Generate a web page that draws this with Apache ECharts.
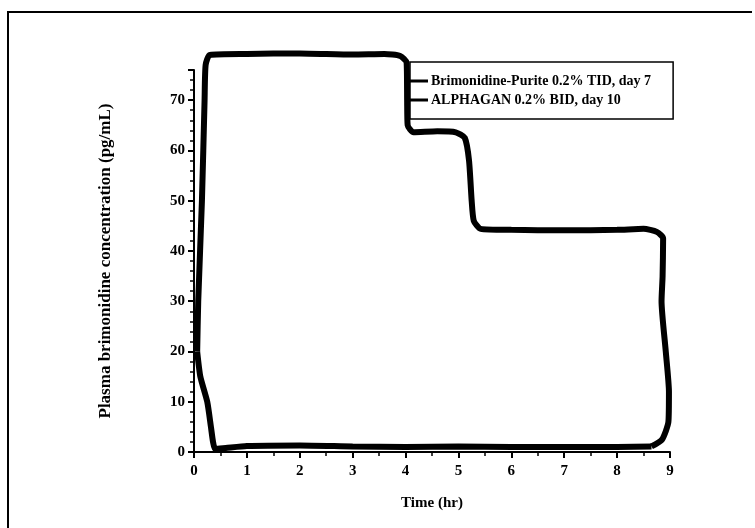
<!DOCTYPE html>
<html lang="en">
<head>
<meta charset="UTF-8">
<title>Plasma brimonidine concentration</title>
<script src="https://cdn.jsdelivr.net/npm/echarts@6/dist/echarts.min.js"></script>
<style>
  html, body { margin: 0; padding: 0; background: #fff; }
</style>
</head>
<body>
<div id="main" style="width: 755px;height: 528px;"></div>
<script>
// values: [time (hr), concentration (pg/mL)]
var puriteName = 'Brimonidine-Purite 0.2% TID, day 7';
var alphaganName = 'ALPHAGAN 0.2% BID, day 10';

var puriteCurve = [
  [0.06, 20], [0.08, 30], [0.15, 50], [0.2, 70], [0.22, 77], [0.3, 79],
  [1, 79.2], [2, 79.3], [3, 79.1], [3.6, 79.2], [3.9, 78.8], [4.02, 77.5],
  [4.03, 70], [4.04, 65], [4.15, 63.6], [4.6, 63.8], [4.95, 63.6], [5.12, 62.5],
  [5.2, 58], [5.25, 50], [5.29, 46], [5.42, 44.4], [6, 44.2], [7, 44.1],
  [8, 44.2], [8.5, 44.4], [8.75, 43.8], [8.87, 42.5], [8.86, 35], [8.84, 30],
  [8.92, 20], [8.98, 12], [8.97, 6], [8.85, 2.5], [8.65, 1.1]
];

var alphaganCurve = [
  [0.06, 20], [0.12, 15], [0.25, 10], [0.32, 5], [0.36, 2], [0.4, 0.6],
  [0.6, 0.8], [1, 1.2], [2, 1.3], [3, 1.1], [4, 1.0], [5, 1.1],
  [6, 1.0], [7, 1.0], [8, 1.0], [8.65, 1.1]
];

var xTicks = { min: 0, max: 9, step: 1 };
var yTicks = { min: 0, max: 76, step: 10 };

var chartDom = document.getElementById('main');
var myChart = echarts.init(chartDom);
var font = 'Liberation Serif';

var option = {
  animation: false,
  backgroundColor: '#fff',
  graphic: [
    {
      type: 'polyline',
      shape: { points: [[8, 530], [8, 12], [752, 12]] },
      style: { stroke: '#000', lineWidth: 2, fill: null }
    }
  ],
  grid: { left: 194, right: 85, top: 70, bottom: 76 },
  legend: {
    orient: 'vertical',
    left: 410,
    top: 62,
    padding: [12, 22, 12, 0],
    itemGap: 5,
    itemWidth: 18,
    itemHeight: 3,
    borderColor: '#000',
    borderWidth: 1.5,
    backgroundColor: '#fff',
    textStyle: { fontFamily: font, fontWeight: 'bold', fontSize: 14, color: '#000', padding: [0, 0, 0, -2] },
    data: [
      { name: puriteName, icon: 'rect' },
      { name: alphaganName, icon: 'rect' }
    ]
  },
  xAxis: {
    type: 'value',
    min: xTicks.min,
    max: xTicks.max,
    interval: xTicks.step,
    name: 'Time (hr)',
    nameLocation: 'middle',
    nameGap: 44,
    nameTextStyle: { fontFamily: font, fontWeight: 'bold', fontSize: 15, color: '#000' },
    axisLine: { lineStyle: { color: '#000', width: 2 } },
    axisTick: { length: 6, lineStyle: { color: '#000', width: 2 } },
    minorTick: { show: true, splitNumber: 2, length: 4, lineStyle: { color: '#000', width: 1.5 } },
    axisLabel: { margin: 12, fontFamily: font, fontWeight: 'bold', fontSize: 15, color: '#000' },
    splitLine: { show: false }
  },
  yAxis: {
    type: 'value',
    min: yTicks.min,
    max: yTicks.max,
    interval: yTicks.step,
    name: 'Plasma brimonidine concentration (pg/mL)',
    nameLocation: 'middle',
    nameGap: 80,
    nameTextStyle: { fontFamily: font, fontWeight: 'bold', fontSize: 17, color: '#000' },
    axisLine: { show: true, lineStyle: { color: '#000', width: 2 } },
    axisTick: { length: 6, lineStyle: { color: '#000', width: 2 } },
    minorTick: { show: true, splitNumber: 5, length: 4, lineStyle: { color: '#000', width: 1.5 } },
    axisLabel: { margin: 9, showMaxLabel: false, fontFamily: font, fontWeight: 'bold', fontSize: 15, color: '#000' },
    splitLine: { show: false }
  },
  series: [
    {
      name: puriteName,
      type: 'line',
      data: puriteCurve,
      showSymbol: false,
      clip: false,
      smooth: 0.2,
      color: '#000',
      lineStyle: { color: '#000', width: 6 }
    },
    {
      name: alphaganName,
      type: 'line',
      data: alphaganCurve,
      showSymbol: false,
      clip: false,
      smooth: 0.2,
      color: '#000',
      lineStyle: { color: '#000', width: 6 }
    }
  ]
};

option && myChart.setOption(option);
</script>
</body>
</html>
